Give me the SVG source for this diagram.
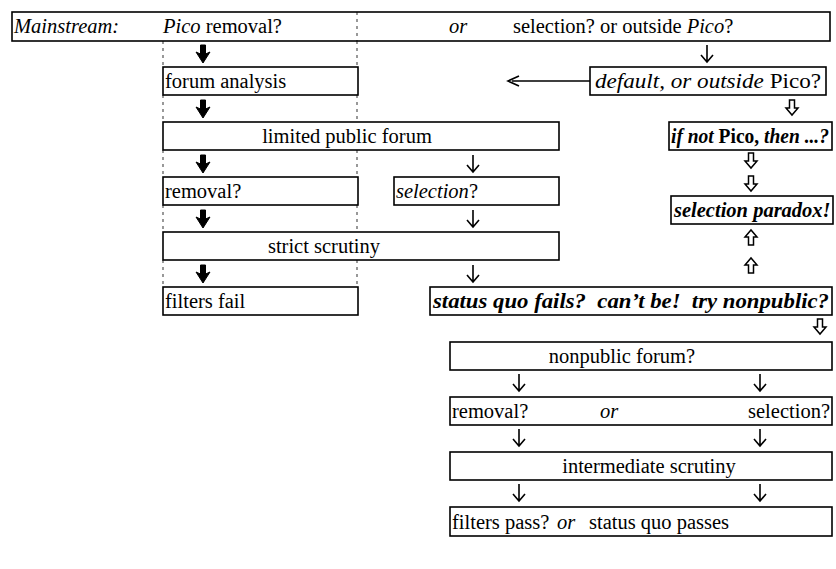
<svg xmlns="http://www.w3.org/2000/svg" xmlns:xlink="http://www.w3.org/1999/xlink" width="836" height="569" viewBox="0 0 836 569">
<style>
  .box { fill: #fff; stroke: #000; stroke-width: 1.6; }
  .t { font-family: 'Liberation Serif', 'DejaVu Serif', 'Noto Serif', serif; font-size: 20.5px; fill: #000; }
  .i { font-style: italic; }
  .b { font-weight: bold; }
  .dash { stroke: #555; stroke-width: 1.2; stroke-dasharray: 3 4; fill: none; }
  .thin { fill: none; stroke: #000; stroke-width: 1.6; }
  .hollow { fill: #fff; stroke: #000; stroke-width: 1.5; stroke-linejoin: miter; }
  .heavy { fill: #000; stroke: #000; stroke-width: 1; }
</style>
<defs>
  <g id="aThin"><path class="thin" d="M0,0 V17 M-6,10 L0,17 L6,10"/></g>
  <g id="aHeavy"><path class="heavy" d="M-2.5,0 H2.5 V9 L7,7 L0,18 L-7,7 L-2.5,9 Z"/></g>
  <g id="aDown"><path class="hollow" d="M-2.5,0 H2.5 V8 H6 L0,15 L-6,8 H-2.5 Z"/></g>
  <g id="aUp"><path class="hollow" d="M-2.5,15 H2.5 V7 H6 L0,0 L-6,7 H-2.5 Z"/></g>
</defs>

<g id="connectors">
  <path class="dash" d="M357,12 V41 M163,41 V67 M357,41 V67 M163,95 V122 M357,95 V122 M163,150 V177 M357,150 V177 M163,205 V232 M357,205 V232 M163,260 V287 M357,260 V287"/>
  <use xlink:href="#aHeavy" x="203" y="45"/>
  <use xlink:href="#aHeavy" x="203" y="100"/>
  <use xlink:href="#aHeavy" x="203" y="155"/>
  <use xlink:href="#aHeavy" x="203" y="210"/>
  <use xlink:href="#aHeavy" x="203" y="265"/>
  <use xlink:href="#aThin" x="473" y="155"/>
  <use xlink:href="#aThin" x="473" y="210"/>
  <use xlink:href="#aThin" x="473" y="265"/>
  <use xlink:href="#aThin" x="707" y="45"/>
  <path class="thin" d="M590,81 H512 M519,76 L508,81 L519,86"/>
  <use xlink:href="#aDown" x="792" y="100"/>
  <use xlink:href="#aDown" x="751" y="153"/>
  <use xlink:href="#aDown" x="751" y="176"/>
  <use xlink:href="#aUp" x="751" y="230"/>
  <use xlink:href="#aUp" x="751" y="258"/>
  <use xlink:href="#aDown" x="820" y="319"/>
  <use xlink:href="#aThin" x="519" y="374"/>
  <use xlink:href="#aThin" x="760" y="374"/>
  <use xlink:href="#aThin" x="519" y="429"/>
  <use xlink:href="#aThin" x="760" y="429"/>
  <use xlink:href="#aThin" x="519" y="484"/>
  <use xlink:href="#aThin" x="760" y="484"/>
</g>

<g id="n-top">
  <rect class="box" x="12" y="12" width="818" height="29" style="fill:none"/>
  <text class="t i" x="14" y="33">Mainstream:</text>
  <text class="t" x="163" y="33"><tspan class="i">Pico</tspan> removal?</text>
  <text class="t i" x="449" y="33">or</text>
  <text class="t" x="513" y="33">selection? or outside <tspan class="i">Pico</tspan>?</text>
</g>
<g id="n-forum">
  <rect class="box" x="163" y="67" width="195" height="28"/>
  <text class="t" x="165" y="88">forum analysis</text>
</g>
<g id="n-default">
  <rect class="box" x="590" y="67" width="236" height="28"/>
  <text class="t" x="595" y="88" font-size="21.5" textLength="226" lengthAdjust="spacingAndGlyphs"><tspan class="i">default, or outside</tspan> Pico?</text>
</g>
<g id="n-limited">
  <rect class="box" x="163" y="122" width="396" height="28"/>
  <text class="t" x="347" y="143" text-anchor="middle">limited public forum</text>
</g>
<g id="n-ifnot">
  <rect class="box" x="669" y="122" width="163" height="28"/>
  <text class="t b" x="671" y="143" textLength="158" lengthAdjust="spacingAndGlyphs"><tspan class="i">if not</tspan> Pico, <tspan class="i">then ...?</tspan></text>
</g>
<g id="n-removal">
  <rect class="box" x="163" y="177" width="195" height="28"/>
  <text class="t" x="165" y="198">removal?</text>
</g>
<g id="n-selection">
  <rect class="box" x="394" y="177" width="165" height="28"/>
  <text class="t" x="396" y="198"><tspan class="i">selection</tspan>?</text>
</g>
<g id="n-paradox">
  <rect class="box" x="671" y="196" width="162" height="28"/>
  <text class="t b i" x="674" y="217">selection paradox!</text>
</g>
<g id="n-strict">
  <rect class="box" x="163" y="232" width="396" height="28"/>
  <text class="t" x="324" y="253" text-anchor="middle">strict scrutiny</text>
</g>
<g id="n-filtersfail">
  <rect class="box" x="163" y="287" width="195" height="28"/>
  <text class="t" x="165" y="308">filters fail</text>
</g>
<g id="n-statusquo">
  <rect class="box" x="430" y="287" width="402" height="28"/>
  <text class="t b i" x="433" y="308" textLength="396" lengthAdjust="spacingAndGlyphs" xml:space="preserve">status quo fails?  can’t be!  try nonpublic?</text>
</g>
<g id="n-nonpublic">
  <rect class="box" x="450" y="342" width="382" height="28"/>
  <text class="t" x="622" y="363" text-anchor="middle">nonpublic forum?</text>
</g>
<g id="n-removalor">
  <rect class="box" x="450" y="397" width="382" height="28"/>
  <text class="t" x="452" y="418">removal?</text>
  <text class="t i" x="600" y="418">or</text>
  <text class="t" x="830" y="418" text-anchor="end">selection?</text>
</g>
<g id="n-intermediate">
  <rect class="box" x="450" y="452" width="382" height="28"/>
  <text class="t" x="649" y="473" text-anchor="middle">intermediate scrutiny</text>
</g>
<g id="n-filterspass">
  <rect class="box" x="450" y="507" width="382" height="29"/>
  <text class="t" x="452" y="529">filters pass?</text>
  <text class="t i" x="557" y="529">or</text>
  <text class="t" x="589" y="529">status quo passes</text>
</g>
</svg>
